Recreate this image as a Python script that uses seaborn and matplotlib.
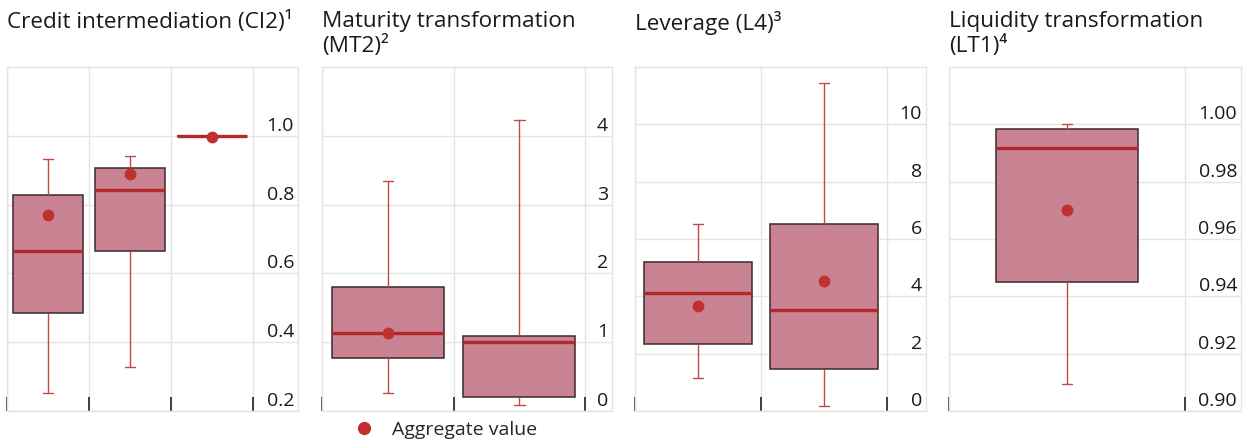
import numpy as np
import pandas as pd
import matplotlib
matplotlib.use("Agg")
import matplotlib.pyplot as plt
import matplotlib.transforms as mtrans
from matplotlib.lines import Line2D
import seaborn as sns

# ---------------- data ----------------
ci2_cats = ["g1", "g2", "g3"]
ci2_whislo = [0.252, 0.328, 1.0]
ci2_q1 = [0.484, 0.664, 1.0]
ci2_med = [0.664, 0.841, 1.0]
ci2_q3 = [0.829, 0.905, 1.0]
ci2_whishi = [0.933, 0.942, 1.0]
ci2_mean = [0.771, 0.889, 0.997]
ci2_ticks = [0.2, 0.4, 0.6, 0.8, 1.0]
ci2_ticklabels = ["0.2", "0.4", "0.6", "0.8", "1.0"]

mt2_cats = ["g1", "g2"]
mt2_whislo = [0.26, 0.09]
mt2_q1 = [0.77, 0.21]
mt2_med = [1.13, 1.0]
mt2_q3 = [1.80, 1.09]
mt2_whishi = [3.35, 4.23]
mt2_mean = [1.13, np.nan]
mt2_ticks = [0, 1, 2, 3, 4]
mt2_ticklabels = ["0", "1", "2", "3", "4"]

l4_cats = ["g1", "g2"]
l4_whislo = [1.16, 0.17]
l4_q1 = [2.35, 1.46]
l4_med = [4.12, 3.51]
l4_q3 = [5.19, 6.52]
l4_whishi = [6.54, 11.45]
l4_mean = [3.68, 4.52]
l4_ticks = [0, 2, 4, 6, 8, 10]
l4_ticklabels = ["0", "2", "4", "6", "8", "10"]

lt1_cats = ["g1"]
lt1_whislo = [0.9093]
lt1_q1 = [0.945]
lt1_med = [0.9918]
lt1_q3 = [0.9985]
lt1_whishi = [1.000]
lt1_mean = [0.970]
lt1_ticks = [0.90, 0.92, 0.94, 0.96, 0.98, 1.00]
lt1_ticklabels = ["0.90", "0.92", "0.94", "0.96", "0.98", "1.00"]

titles = [
    "Credit intermediation (CI2)\u00b9",
    "Maturity transformation\n(MT2)\u00b2",
    "Leverage (L4)\u00b3",
    "Liquidity transformation\n(LT1)\u2074",
]
legend_label = "Aggregate value"

# ---------------- style ----------------
sns.set_theme(style="white")
plt.rcParams["font.family"] = ["Open Sans", "DejaVu Sans"]

FILL = "#c98393"
MED = "#b3282c"
WHISK = "#bf4a4a"
EDGE = "#3a2a2e"
DOT = "#c0302e"
GRID = "#e4e4e4"
TXT = "#1a1a1a"

W, H = 1248, 444
fig = plt.figure(figsize=(W / 100, H / 100), dpi=100)

panels = [
    dict(cats=ci2_cats, lo=ci2_whislo, q1=ci2_q1, med=ci2_med, q3=ci2_q3, hi=ci2_whishi,
         mean=ci2_mean, ticks=ci2_ticks, labels=ci2_ticklabels, ylim=(0.2, 1.2),
         left=7, right=298, col=82, width=0.85),
    dict(cats=mt2_cats, lo=mt2_whislo, q1=mt2_q1, med=mt2_med, q3=mt2_q3, hi=mt2_whishi,
         mean=mt2_mean, ticks=mt2_ticks, labels=mt2_ticklabels, ylim=(0, 5),
         left=322, right=612, col=131.5, width=0.85),
    dict(cats=l4_cats, lo=l4_whislo, q1=l4_q1, med=l4_med, q3=l4_q3, hi=l4_whishi,
         mean=l4_mean, ticks=l4_ticks, labels=l4_ticklabels, ylim=(0, 12),
         left=635, right=926, col=126, width=0.85),
    dict(cats=lt1_cats, lo=lt1_whislo, q1=lt1_q1, med=lt1_med, q3=lt1_q3, hi=lt1_whishi,
         mean=lt1_mean, ticks=lt1_ticks, labels=lt1_ticklabels, ylim=(0.90, 1.02),
         left=949, right=1241, col=236, width=0.60),
]

top_px, bot_px = 67, 411
for i, p in enumerate(panels):
    ax = fig.add_axes([p["left"] / W, 1 - bot_px / H, (p["right"] - p["left"]) / W,
                       (bot_px - top_px) / H])
    rows = []
    for j, c in enumerate(p["cats"]):
        for v in (p["lo"][j], p["q1"][j], p["med"][j], p["q3"][j], p["hi"][j]):
            rows.append((c, v))
    df = pd.DataFrame(rows, columns=["cat", "val"])
    cap = 10.5 / p["col"]
    sns.boxplot(data=df, x="cat", y="val", order=p["cats"], ax=ax, whis=(0, 100),
                width=p["width"], color=FILL, saturation=1, linecolor=EDGE,
                linewidth=1.1, showfliers=False,
                medianprops=dict(color=MED, linewidth=2.4, solid_capstyle="butt"),
                whiskerprops=dict(color=WHISK, linewidth=1.0),
                capprops=dict(color=WHISK, linewidth=1.0),
                capwidths=cap)
    mdf = pd.DataFrame({"cat": p["cats"], "mean": p["mean"]})
    sns.stripplot(data=mdf, x="cat", y="mean", order=p["cats"], ax=ax, jitter=False,
                  color=DOT, size=8.5, linewidth=0, zorder=6)

    n = len(p["cats"])
    extra = (p["right"] - p["left"] - n * p["col"]) / p["col"]
    ax.set_xlim(-0.5, n - 0.5 + extra)
    ax.set_ylim(*p["ylim"])
    bounds = [k - 0.5 for k in range(n + 1)]
    ax.set_xticks(bounds)
    ax.set_xticklabels([""] * len(bounds))
    ax.set_yticks(p["ticks"])
    ax.set_yticklabels([])
    ax.set_xlabel("")
    ax.set_ylabel("")
    ax.grid(True, axis="both", color=GRID, linewidth=1.0)
    ax.set_axisbelow(True)
    ax.tick_params(axis="x", direction="in", length=10, width=1.2, color="#222222",
                   bottom=True, top=False, labelbottom=False)
    ax.tick_params(axis="y", length=0, left=False, right=False)
    for s in ax.spines.values():
        s.set_color(GRID)
        s.set_linewidth(1.0)
    tr = mtrans.offset_copy(ax.get_yaxis_transform(), fig=fig, x=-4, y=5, units="dots")
    for t, lab in zip(p["ticks"], p["labels"]):
        ax.text(1.0, t, lab, transform=tr, ha="right", va="baseline",
                fontsize=14, color=TXT)
    fig.text(p["left"] / W, 1 - 11 / H, titles[i], ha="left", va="top", fontsize=16.2,
             color=TXT, linespacing=1.18)

handle = Line2D([], [], marker="o", linestyle="none", color=DOT, markersize=8.5)
fig.legend([handle], [legend_label], loc="center left",
           bbox_to_anchor=(345 / W, 1 - 430 / H), frameon=False, fontsize=14,
           handletextpad=0.4, borderaxespad=0, borderpad=0)

fig.savefig("out.png", dpi=100)
